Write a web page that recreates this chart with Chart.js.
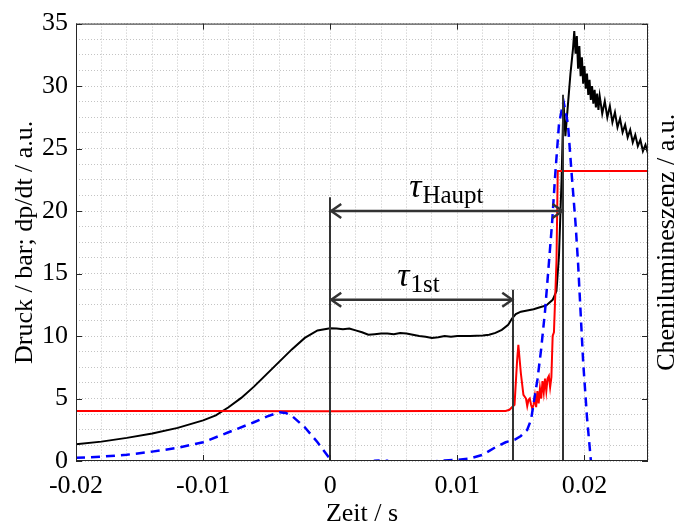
<!DOCTYPE html>
<html>
<head>
<meta charset="utf-8">
<script src="https://cdn.jsdelivr.net/npm/chart.js@4.4.1/dist/chart.umd.min.js"></script>
<style>
  html, body { margin: 0; padding: 0; background: #ffffff; }
</style>
</head>
<body>
<canvas id="grafica-druck" width="678" height="526"></canvas>
<script>
// Druckverlauf (schwarz)
const druckZeit = [
  -0.020, -0.018, -0.016, -0.014, -0.012, -0.010, -0.009, -0.008, -0.007, -0.006,
  -0.005, -0.004, -0.003, -0.002, -0.001, 0.000, 0.0005, 0.001, 0.0015, 0.002,
  0.0025, 0.003, 0.0035, 0.004, 0.0045, 0.005, 0.0055, 0.006, 0.0065, 0.007,
  0.0075, 0.008, 0.0085, 0.009, 0.0095, 0.010, 0.011, 0.012, 0.0125, 0.013,
  0.0135, 0.014, 0.0143, 0.0146, 0.015, 0.0155, 0.016, 0.0165, 0.017, 0.0175,
  0.0178, 0.018, 0.0182, 0.01835, 0.0185, 0.0187, 0.0189, 0.0191,
  0.0192, 0.0193, 0.0194, 0.0195, 0.0196, 0.0197, 0.0198, 0.0199, 0.0200, 0.0201,
  0.0202, 0.0203, 0.0204, 0.0205, 0.0206, 0.0207, 0.0208, 0.0209, 0.0210, 0.0211,
  0.0212, 0.0214, 0.0216, 0.0218, 0.0220, 0.0222, 0.0224, 0.0226, 0.0228, 0.0230,
  0.0232, 0.0234, 0.0236, 0.0238, 0.0240, 0.0242, 0.0244, 0.0246, 0.0248, 0.0250
];
const druckWert = [
  1.33, 1.55, 1.85, 2.2, 2.65, 3.25, 3.65, 4.3, 5.05, 5.95,
  6.95, 7.95, 8.95, 9.85, 10.45, 10.62, 10.6, 10.55, 10.6, 10.45,
  10.3, 10.1, 10.15, 10.2, 10.2, 10.15, 10.25, 10.2, 10.1, 10.0,
  9.95, 9.85, 9.9, 10.0, 9.95, 10.0, 10.0, 10.05, 10.1, 10.25,
  10.5, 10.9, 11.4, 11.75, 11.95, 12.05, 12.15, 12.3, 12.45, 12.9,
  13.6, 16.5, 22.5, 28.8, 26.0, 28.5, 31.0, 33.0,
  34.4, 32.6, 34.0, 31.4, 33.2, 30.8, 32.3, 30.2, 31.6, 29.8,
  31.0, 29.3, 30.5, 28.9, 30.0, 28.6, 29.7, 28.3, 29.4, 28.1,
  29.2, 27.8, 28.8, 27.5, 28.4, 27.1, 27.9, 26.7, 27.4, 26.3,
  26.9, 25.9, 26.5, 25.5, 26.1, 25.2, 25.7, 24.8, 25.3, 24.6
];

// dp/dt (rot)
const dpdtZeit = [
  -0.020, -0.010, 0.000, 0.008, 0.0138, 0.0141, 0.0143, 0.0145, 0.0147, 0.0148,
  0.0150, 0.0152, 0.0154, 0.0155, 0.0156, 0.0157, 0.0158, 0.0159, 0.0160, 0.0161,
  0.0162, 0.0163, 0.0164, 0.0165, 0.0166, 0.0167, 0.0168, 0.0169, 0.0170, 0.0171,
  0.0172, 0.0173, 0.0174, 0.0175, 0.0176, 0.0178, 0.0179, 0.0250
];
const dpdtWert = [
  4.0, 4.0, 3.98, 4.0, 4.0, 4.1, 4.3, 4.5, 8.0, 9.3,
  7.0, 5.3, 5.0, 4.4, 4.9, 5.0, 4.5, 4.2, 4.5, 5.2,
  4.3, 5.6, 4.6, 5.8, 5.0, 6.4, 5.5, 6.6, 5.6, 6.6,
  6.8, 5.9, 6.7, 10.0, 10.3, 16.0, 23.2, 23.2
];

// Chemilumineszenz (blau gestrichelt)
const chemiZeit = [
  -0.020, -0.018, -0.016, -0.014, -0.012, -0.010, -0.008, -0.006, -0.005, -0.004,
  -0.0035, -0.003, -0.002, -0.001, 0.000, 0.0005, 0.001, 0.002, 0.003, 0.0035,
  0.004, 0.0045, 0.005, 0.006, 0.007, 0.008, 0.009, 0.010, 0.011, 0.012,
  0.013, 0.0138, 0.0145, 0.015, 0.0155, 0.0158, 0.016, 0.0163, 0.0166, 0.0169,
  0.0172, 0.01745, 0.0177, 0.018, 0.01835, 0.0187, 0.0190, 0.0193, 0.0195, 0.0199,
  0.0202, 0.0205, 0.0207
];
const chemiWert = [
  0.25, 0.35, 0.5, 0.75, 1.05, 1.5, 2.3, 3.1, 3.55, 3.9,
  3.85, 3.6, 2.7, 1.5, 0.15, -0.6, -0.9, -0.6, -0.2, 0.02,
  0.05, 0.02, -0.3, -0.5, -0.3, -0.05, 0.05, 0.1, 0.2, 0.5,
  1.1, 1.5, 1.7, 2.0, 2.5, 3.3, 4.6, 6.5, 9.0, 12.0,
  15.8, 19.0, 22.9, 27.0, 28.8, 27.0, 22.9, 19.0, 15.8, 7.9,
  3.5, 0.1, -1.0
];

// Achsen
const xTickWerte = [-0.02, -0.01, 0, 0.01, 0.02];
const xTickLabels = ['-0.02', '-0.01', '0', '0.01', '0.02'];
const yTickWerte = [0, 5, 10, 15, 20, 25, 30, 35];
const yTickLabels = ['0', '5', '10', '15', '20', '25', '30', '35'];

// Markierungen (Zeit, obere Kante) und Pfeile
const markerZeit = [0, 0.0144, 0.01835];
const markerOben = [21.1, 13.7, 29.3];
const pfeile = [
  { von: 0, bis: 0.01835, hoehe: 20.0, label: 'Haupt', lx: 0.0091, ly: 20.8 },
  { von: 0, bis: 0.0144, hoehe: 12.9, label: '1st', lx: 0.0069, ly: 13.7 }
];

const serif = 'Liberation Serif';
Chart.defaults.font.family = serif;
Chart.defaults.color = '#000000';

function toPoints(xs, ys) {
  return xs.map((x, i) => ({ x: x, y: ys[i] }));
}

function labelFor(werte, labels) {
  return function (v) {
    const i = werte.findIndex(t => Math.abs(t - v) < 1e-9);
    return i >= 0 ? labels[i] : '';
  };
}

// Rahmen, Ticks nach innen, Markierungen, Pfeile und Achsentitel
const extrasPlugin = {
  id: 'extras',
  afterDatasetsDraw(chart) {
    const ctx = chart.ctx;
    const xs = chart.scales.x;
    const ys = chart.scales.y;
    const a = chart.chartArea;

    ctx.save();
    // senkrechte Linien
    ctx.strokeStyle = '#333333';
    ctx.lineWidth = 2;
    markerZeit.forEach((t, i) => {
      const px = Math.round(xs.getPixelForValue(t));
      ctx.beginPath();
      ctx.moveTo(px, ys.getPixelForValue(0));
      ctx.lineTo(px, ys.getPixelForValue(markerOben[i]));
      ctx.stroke();
    });

    // Doppelpfeile
    ctx.lineWidth = 2.5;
    ctx.lineCap = 'butt';
    pfeile.forEach(p => {
      const x1 = xs.getPixelForValue(p.von);
      const x2 = xs.getPixelForValue(p.bis);
      const py = ys.getPixelForValue(p.hoehe);
      ctx.beginPath();
      ctx.moveTo(x1, py);
      ctx.lineTo(x2, py);
      ctx.stroke();
      ctx.beginPath();
      ctx.moveTo(x1 + 11, py - 7);
      ctx.lineTo(x1 + 1, py);
      ctx.lineTo(x1 + 11, py + 7);
      ctx.moveTo(x2 - 11, py - 7);
      ctx.lineTo(x2 - 1, py);
      ctx.lineTo(x2 - 11, py + 7);
      ctx.stroke();

      // tau mit Index
      ctx.fillStyle = '#000000';
      ctx.textBaseline = 'alphabetic';
      const tauFont = 'italic 34px ' + serif;
      const subFont = '25px ' + serif;
      ctx.font = tauFont;
      const wt = ctx.measureText('τ').width;
      ctx.font = subFont;
      const ws = ctx.measureText(p.label).width;
      const cx = xs.getPixelForValue(p.lx);
      const by = ys.getPixelForValue(p.ly);
      const x0 = cx - (wt + ws) / 2;
      ctx.font = tauFont;
      ctx.fillText('τ', x0, by - 4);
      ctx.font = subFont;
      ctx.fillText(p.label, x0 + wt + 1, by + 2);
    });

    // Rahmen
    ctx.strokeStyle = '#262626';
    ctx.lineWidth = 1;
    ctx.strokeRect(a.left + 0.5, a.top + 0.5, a.right - a.left - 1, a.bottom - a.top - 1);

    // Ticks nach innen
    ctx.beginPath();
    xTickWerte.forEach(v => {
      const px = Math.round(xs.getPixelForValue(v)) + 0.5;
      ctx.moveTo(px, a.bottom);
      ctx.lineTo(px, a.bottom - 6);
      ctx.moveTo(px, a.top);
      ctx.lineTo(px, a.top + 6);
    });
    yTickWerte.forEach(v => {
      const py = Math.round(ys.getPixelForValue(v)) + 0.5;
      ctx.moveTo(a.left, py);
      ctx.lineTo(a.left + 6, py);
      ctx.moveTo(a.right, py);
      ctx.lineTo(a.right - 6, py);
    });
    ctx.stroke();

    // Achsentitel
    const mitteY = (a.top + a.bottom) / 2;
    ctx.fillStyle = '#000000';
    ctx.textAlign = 'center';
    ctx.textBaseline = 'middle';
    ctx.font = '26px ' + serif;
    ctx.fillText('Zeit / s', (a.left + a.right) / 2, 514);

    ctx.save();
    ctx.translate(25, mitteY);
    ctx.rotate(-Math.PI / 2);
    ctx.fillText('Druck / bar; dp/dt / a.u.', 0, 0);
    ctx.restore();

    ctx.save();
    ctx.translate(667, mitteY);
    ctx.rotate(-Math.PI / 2);
    ctx.fillText('Chemilumineszenz / a.u.', 0, 0);
    ctx.restore();

    ctx.restore();
  }
};

const ctx = document.getElementById('grafica-druck').getContext('2d');
new Chart(ctx, {
  type: 'line',
  data: {
    datasets: [
      {
        label: 'Chemilumineszenz',
        data: toPoints(chemiZeit, chemiWert),
        borderColor: '#0000ff',
        borderWidth: 2.5,
        borderDash: [9, 6],
        pointRadius: 0,
        tension: 0,
        fill: false
      },
      {
        label: 'dp/dt',
        data: toPoints(dpdtZeit, dpdtWert),
        borderColor: '#ff0000',
        borderWidth: 2,
        pointRadius: 0,
        tension: 0,
        fill: false
      },
      {
        label: 'Druck',
        data: toPoints(druckZeit, druckWert),
        borderColor: '#000000',
        borderWidth: 2,
        pointRadius: 0,
        tension: 0,
        fill: false
      }
    ]
  },
  options: {
    responsive: false,
    animation: false,
    devicePixelRatio: 1,
    layout: {
      padding: { top: 16, right: 30, left: 0, bottom: 0 }
    },
    plugins: {
      legend: { display: false },
      tooltip: { enabled: false }
    },
    scales: {
      x: {
        type: 'linear',
        min: -0.02,
        max: 0.025,
        afterFit: scale => { scale.height = 65; },
        ticks: {
          stepSize: 0.002,
          autoSkip: false,
          maxRotation: 0,
          padding: 10,
          color: '#000000',
          font: { family: serif, size: 26 },
          callback: labelFor(xTickWerte, xTickLabels)
        },
        grid: {
          color: '#c4c4c4',
          lineWidth: 1,
          drawTicks: false
        },
        border: { display: false, dash: [1, 2] }
      },
      y: {
        min: 0,
        max: 35,
        afterFit: scale => { scale.width = 76; },
        ticks: {
          stepSize: 1.25,
          autoSkip: false,
          padding: 8,
          color: '#000000',
          font: { family: serif, size: 26 },
          callback: labelFor(yTickWerte, yTickLabels)
        },
        grid: {
          color: '#c4c4c4',
          lineWidth: 1,
          drawTicks: false
        },
        border: { display: false, dash: [1, 2] }
      }
    }
  },
  plugins: [extrasPlugin]
});
</script>
</body>
</html>
